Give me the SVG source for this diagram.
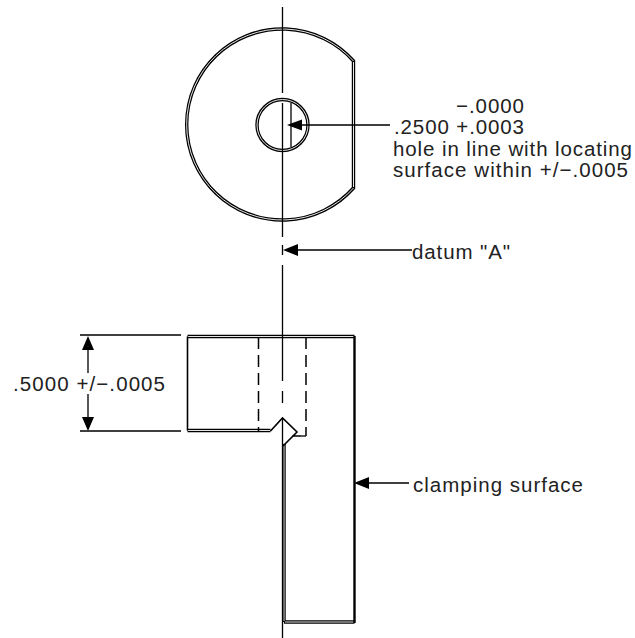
<svg xmlns="http://www.w3.org/2000/svg" width="635" height="638" viewBox="0 0 635 638">
<style>
.l{fill:none;stroke:#000;stroke-width:1.3}
.d{fill:none;stroke:#000;stroke-width:1.5;stroke-dasharray:12 6}
.dbl{fill:none;stroke:#000;stroke-width:3.4}
.in{fill:none;stroke:#fff;stroke-width:0.9}
.a{fill:#000;stroke:none}
text{font-family:"Liberation Sans",Arial,sans-serif;font-size:20.500px;fill:#222}
</style>
<rect width="635" height="638" fill="#fff"/>
<g id="top-view">
<path class="dbl" d="M353.500 61 A95.500 95.500 0 1 0 353.500 188 Z"/>
<path class="in" d="M353.500 61 A95.500 95.500 0 1 0 353.500 188"/>
<path class="in" d="M353.500 62V187"/>
<circle class="dbl" cx="282.500" cy="125" r="25.500"/>
<circle class="in" cx="282.500" cy="125" r="25.500"/>
<path class="l" d="M291 103V147"/>
</g>
<g id="side-view">
<path class="dbl" d="M187.500 430.500H270.500M187.500 336.500H354.500M284 622H354.500M284 444V622"/>
<path class="in" d="M188 430.500H270M188 336.500H354M284 445V621M285 622H354"/>
<path class="l" style="stroke-width:2.400" d="M354.500 336V623"/>
<path class="l" style="stroke-width:1.600" d="M187.500 336.500V430.500M270.500 431L282.500 418L297 432L283 446M292 436H301"/>
<path class="d" d="M258.500 337V431M306 337V436"/>
<path class="l" d="M301 436H306"/>
</g>
<g id="connectors">
<path class="l" d="M282.500 7V93M282.500 103V237M282.500 245V255M282.500 265V381M282.500 391V403M282.500 418V638"/>
<path class="l" d="M298 125H390M293 250H412M366 483H409M80 335H181M80 431H181M88 348V373M88 394V419"/>
<path class="a" d="M287 125L302 119.500V130.500ZM283 250L298 244V256ZM354 483L369 477V489ZM88 336L94 350H82ZM88 431L82 417H94Z"/>
</g>
<g id="labels">
<text x="456" y="112.500" textLength="68">−.0000</text>
<text x="394" y="134" textLength="130">.2500 +.0003</text>
<text x="393" y="156" textLength="239">hole in line with locating</text>
<text x="393" y="177" textLength="235">surface within +/−.0005</text>
<text x="412" y="259" textLength="98">datum "A"</text>
<text x="13" y="391" textLength="152">.5000 +/−.0005</text>
<text x="413" y="492" textLength="170">clamping surface</text>
</g>
</svg>
